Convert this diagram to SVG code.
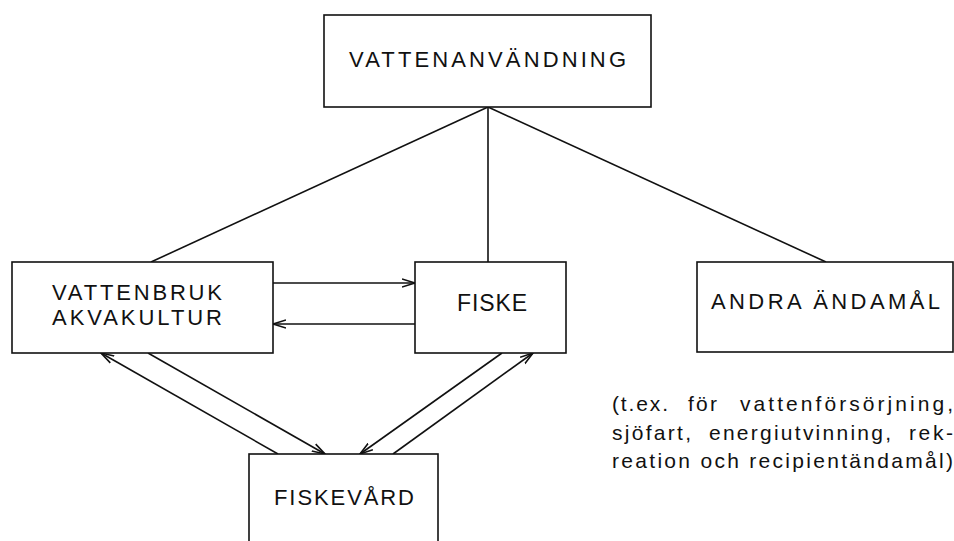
<svg xmlns="http://www.w3.org/2000/svg" width="954" height="541" viewBox="0 0 954 541">
<style>
  .box { fill: #fff; stroke: #111; stroke-width: 1.6; }
  .lbl { font-family: "Liberation Sans", Arial, sans-serif; font-size: 22px; fill: #111; text-anchor: middle; }
  .cap { font-family: "Liberation Sans", Arial, sans-serif; font-size: 21px; fill: #111; }
  .ln { stroke: #111; stroke-width: 1.6; fill: none; }
</style>
<defs>
  <marker id="arr" viewBox="0 0 14 10" refX="13" refY="5" markerWidth="14" markerHeight="10" markerUnits="userSpaceOnUse" orient="auto">
    <path d="M0,1 L13,5 L0,9" fill="none" stroke="#111" stroke-width="1.6"/>
  </marker>
</defs>
<rect width="954" height="541" fill="#fff"/>
<g id="connectors">
  <line class="ln" x1="488" y1="107" x2="151" y2="262"/>
  <line class="ln" x1="488" y1="107" x2="488" y2="262"/>
  <line class="ln" x1="488" y1="107" x2="826" y2="262"/>
  <line class="ln" x1="273" y1="283" x2="415" y2="283" marker-end="url(#arr)"/>
  <line class="ln" x1="415" y1="324" x2="273" y2="324" marker-end="url(#arr)"/>
  <line class="ln" x1="278" y1="454" x2="101" y2="353" marker-end="url(#arr)"/>
  <line class="ln" x1="148" y1="353" x2="325" y2="454" marker-end="url(#arr)"/>
  <line class="ln" x1="502" y1="353" x2="360" y2="454" marker-end="url(#arr)"/>
  <line class="ln" x1="393" y1="454" x2="533" y2="353" marker-end="url(#arr)"/>
</g>
<g id="vattenanvandning">
  <rect class="box" x="324" y="15" width="327" height="92"/>
  <text class="lbl" x="487.5" y="67" textLength="277" lengthAdjust="spacing">VATTENANVÄNDNING</text>
</g>
<g id="vattenbruk">
  <rect class="box" x="12" y="262" width="261" height="91"/>
  <text class="lbl" x="137" y="300" textLength="170" lengthAdjust="spacing">VATTENBRUK</text>
  <text class="lbl" x="137" y="325" textLength="170" lengthAdjust="spacing">AKVAKULTUR</text>
</g>
<g id="fiske">
  <rect class="box" x="415" y="262" width="151" height="91"/>
  <text class="lbl" x="492" y="311" style="font-size:23px" textLength="70" lengthAdjust="spacing">FISKE</text>
</g>
<g id="andra">
  <rect class="box" x="697" y="262" width="256" height="90"/>
  <text class="lbl" x="825.5" y="309" textLength="229" lengthAdjust="spacing">ANDRA ÄNDAMÅL</text>
</g>
<g id="fiskevard">
  <rect class="box" x="249" y="454" width="189" height="100"/>
  <text class="lbl" x="344" y="505" textLength="140" lengthAdjust="spacing">FISKEVÅRD</text>
</g>
<g id="caption">
  <text class="cap" y="411"><tspan x="612" textLength="56" lengthAdjust="spacing">(t.ex.</tspan><tspan x="688" textLength="29" lengthAdjust="spacing">för</tspan><tspan x="740" textLength="213" lengthAdjust="spacing">vattenförsörjning,</tspan></text>
  <text class="cap" y="440"><tspan x="612" textLength="79" lengthAdjust="spacing">sjöfart,</tspan><tspan x="709" textLength="182" lengthAdjust="spacing">energiutvinning,</tspan><tspan x="909" textLength="44" lengthAdjust="spacing">rek-</tspan></text>
  <text class="cap" x="612" y="468" textLength="341" lengthAdjust="spacing">reation och recipientändamål)</text>
</g>
</svg>
